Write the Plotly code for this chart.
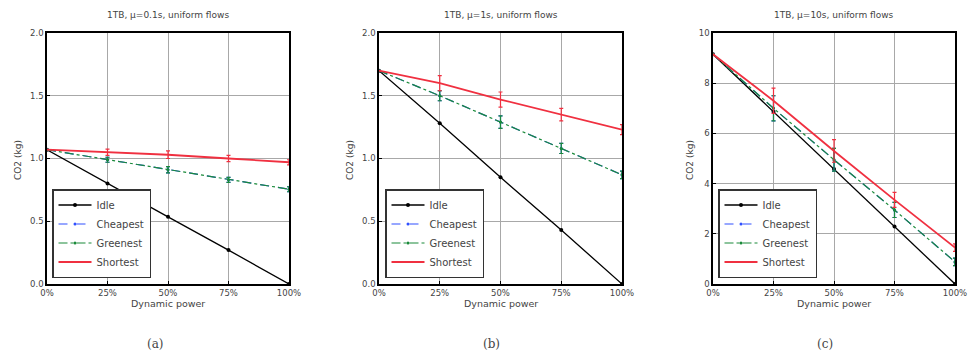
import plotly.graph_objects as go

x_vals = [0, 25, 50, 75, 100]
x_ticklabels = ["0%", "25%", "50%", "75%", "100%"]

titles = ["1TB, \u03bc=0.1s, uniform flows", "1TB, \u03bc=1s, uniform flows", "1TB, \u03bc=10s, uniform flows"]
captions = ["(a)", "(b)", "(c)"]

# panel (a)
a_idle = [1.07, 0.80, 0.535, 0.27, 0.0]
a_cheapest = [1.07, 0.99, 0.91, 0.83, 0.755]
a_greenest = [1.07, 0.99, 0.91, 0.83, 0.755]
a_shortest = [1.07, 1.05, 1.03, 1.00, 0.97]
a_err_c = [0.0, 0.02, 0.025, 0.02, 0.02]
a_err_s = [0.0, 0.025, 0.03, 0.025, 0.02]

# panel (b)
b_idle = [1.70, 1.28, 0.85, 0.43, 0.0]
b_cheapest = [1.70, 1.50, 1.29, 1.08, 0.87]
b_greenest = [1.70, 1.50, 1.29, 1.08, 0.87]
b_shortest = [1.70, 1.60, 1.47, 1.35, 1.23]
b_err_c = [0.0, 0.04, 0.05, 0.04, 0.03]
b_err_s = [0.0, 0.06, 0.06, 0.05, 0.04]

# panel (c)
c_idle = [9.15, 6.86, 4.58, 2.29, 0.0]
c_cheapest = [9.15, 7.0, 4.95, 2.95, 0.88]
c_greenest = [9.15, 7.0, 4.95, 2.95, 0.88]
c_shortest = [9.15, 7.3, 5.3, 3.35, 1.45]
c_err_c = [0.0, 0.5, 0.45, 0.3, 0.15]
c_err_s = [0.0, 0.5, 0.45, 0.3, 0.15]

y_ranges = [[0, 2.0], [0, 2.0], [0, 10]]
y_ticks = [[0.0, 0.5, 1.0, 1.5, 2.0], [0.0, 0.5, 1.0, 1.5, 2.0], [0, 2, 4, 6, 8, 10]]
y_ticklabels = [["0.0", "0.5", "1.0", "1.5", "2.0"], ["0.0", "0.5", "1.0", "1.5", "2.0"], ["0", "2", "4", "6", "8", "10"]]

panels = [
    (a_idle, a_cheapest, a_greenest, a_shortest, a_err_c, a_err_s),
    (b_idle, b_cheapest, b_greenest, b_shortest, b_err_c, b_err_s),
    (c_idle, c_cheapest, c_greenest, c_shortest, c_err_c, c_err_s),
]

W, H = 971, 355
x_px = [(47, 289), (379, 622), (713, 955)]
y_px = (33, 284)
ylab_px = [18, 350, 690]
leg_px = [52, 385, 718]
cap_px = [155, 491, 825]

FONT = "DejaVu Sans"
TXT = "#444"
fig = go.Figure()

for i, (idle, cheap, green, short, errc, errs) in enumerate(panels):
    n = "" if i == 0 else str(i + 1)
    xa, ya = "x" + n, "y" + n
    leg = "legend" + n
    fig.add_trace(go.Scatter(x=x_vals, y=idle, name="Idle", mode="lines+markers",
                             line=dict(color="black", width=1.3), marker=dict(size=4, color="black"),
                             xaxis=xa, yaxis=ya, legend=leg, cliponaxis=False))
    fig.add_trace(go.Scatter(x=x_vals, y=cheap, name="Cheapest", mode="lines+markers",
                             line=dict(color="#3050ff", width=1.2, dash="dash"), marker=dict(size=3, color="#3050ff"),
                             error_y=dict(type="data", array=errc, color="#3050ff", thickness=1.2, width=2),
                             xaxis=xa, yaxis=ya, legend=leg, cliponaxis=False))
    fig.add_trace(go.Scatter(x=x_vals, y=green, name="Greenest", mode="lines+markers",
                             line=dict(color="#1a8a3a", width=1.2, dash="dashdot"), marker=dict(size=3, color="#1a8a3a"),
                             error_y=dict(type="data", array=errc, color="#1a8a3a", thickness=1.2, width=2),
                             xaxis=xa, yaxis=ya, legend=leg, cliponaxis=False))
    fig.add_trace(go.Scatter(x=x_vals, y=short, name="Shortest", mode="lines",
                             line=dict(color="#f03040", width=1.8),
                             error_y=dict(type="data", array=errs, color="#f03040", thickness=1.2, width=2),
                             xaxis=xa, yaxis=ya, legend=leg, cliponaxis=False))

    x0, x1 = x_px[i]
    axis_common = dict(showgrid=True, gridcolor="#a8a8a8", gridwidth=1, showline=True, linecolor="black",
                       linewidth=1.5, mirror=True, ticks="inside", ticklen=3, tickcolor="black",
                       tickfont=dict(family=FONT, size=8.5, color=TXT), zeroline=False,
                       automargin=False)
    fig.layout["xaxis" + n] = dict(domain=[x0 / W, x1 / W], range=[0, 100], tickvals=x_vals,
                                   ticktext=x_ticklabels, anchor=ya, **axis_common)
    fig.layout["yaxis" + n] = dict(domain=[1 - y_px[1] / H, 1 - y_px[0] / H], range=y_ranges[i],
                                   tickvals=y_ticks[i], ticktext=y_ticklabels[i], anchor=xa, **axis_common)
    fig.layout[leg] = dict(x=leg_px[i] / W, y=1 - 278 / H, xanchor="left", yanchor="bottom",
                           bgcolor="white", bordercolor="#333", borderwidth=1.5,
                           font=dict(family=FONT, size=10, color=TXT), tracegroupgap=0,
                           itemwidth=33)
    cx = (x0 + x1) / 2 / W
    fig.add_annotation(text=titles[i], x=cx, y=1 - 15 / H, xref="paper", yref="paper",
                       xanchor="center", yanchor="middle",
                       showarrow=False, font=dict(family=FONT, size=9, color=TXT))
    fig.add_annotation(text="Dynamic power", x=cx, y=1 - 303 / H, xref="paper", yref="paper",
                       xanchor="center", yanchor="middle",
                       showarrow=False, font=dict(family=FONT, size=9.5, color=TXT))
    fig.add_annotation(text="CO2 (kg)", x=ylab_px[i] / W, y=1 - 160 / H, xref="paper", yref="paper",
                       xanchor="center", yanchor="middle",
                       showarrow=False, textangle=-90, font=dict(family=FONT, size=9, color=TXT))
    fig.add_annotation(text=captions[i], x=cap_px[i] / W, y=1 - 344 / H,
                       xref="paper", yref="paper", showarrow=False, xanchor="center", yanchor="middle",
                       font=dict(family="DejaVu Serif", size=12, color=TXT))

fig.update_layout(width=W, height=H, margin=dict(l=0, r=0, t=0, b=0, autoexpand=False),
                  paper_bgcolor="white", plot_bgcolor="white", showlegend=True)
fig.write_html("out.html", config={"displayModeBar": False},
               post_script="document.body.style.margin='0';document.body.style.overflow='hidden';")
